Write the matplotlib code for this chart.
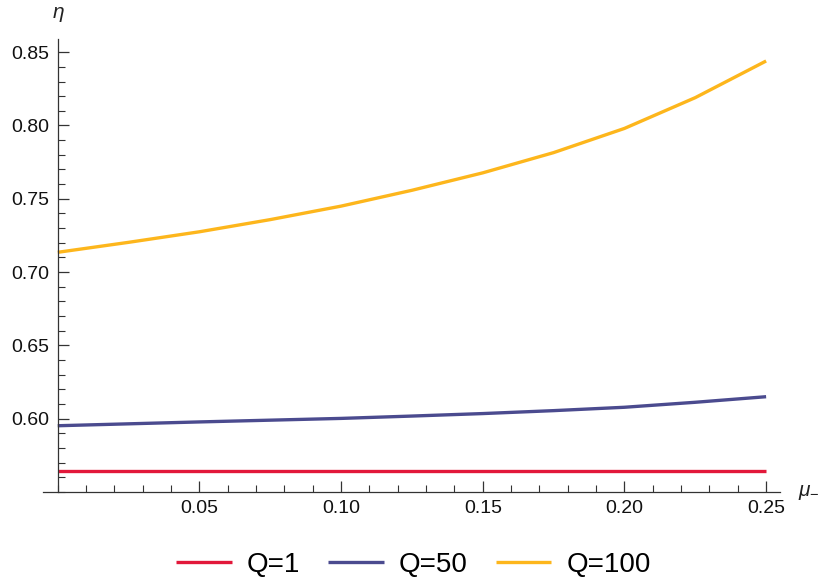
import matplotlib
matplotlib.use("Agg")
import matplotlib.pyplot as plt
from matplotlib.ticker import MultipleLocator, FormatStrFormatter

plt.rcParams['font.family'] = ['Liberation Sans', 'DejaVu Sans']
plt.rcParams['mathtext.fontset'] = 'custom'
plt.rcParams['mathtext.it'] = 'Liberation Sans:italic'
plt.rcParams['mathtext.rm'] = 'Liberation Sans'

# data
mu = [0.0, 0.025, 0.05, 0.075, 0.10, 0.125, 0.15, 0.175, 0.20, 0.225, 0.25]
eta_q1 = [0.5643] * 11
eta_q50 = [0.5952, 0.5965, 0.5978, 0.5990, 0.6002, 0.6018, 0.6035, 0.6055, 0.6078, 0.6112, 0.6150]
eta_q100 = [0.7135, 0.7203, 0.7275, 0.7358, 0.7450, 0.7558, 0.7677, 0.7815, 0.7980, 0.8190, 0.8440]
labels = ["Q=1", "Q=50", "Q=100"]
colors = ["#E2183A", "#4B4B8F", "#FDB61C"]
xticks = [0.05, 0.10, 0.15, 0.20, 0.25]
yticks = [0.60, 0.65, 0.70, 0.75, 0.80, 0.85]

W, H = 819, 577
fig = plt.figure(figsize=(W / 100, H / 100), dpi=100)
ax = fig.add_axes([43 / W, 1 - 492 / H, (780 - 43) / W, (492 - 39) / H])

lines = []
for ys, c, lab in zip([eta_q1, eta_q50, eta_q100], colors, labels):
    l, = ax.plot(mu, ys, color=c, lw=2.4, label=lab, solid_capstyle='butt')
    lines.append(l)

ax.set_xlim(-0.0052, 0.2549)
ax.set_ylim(0.55, 0.859)

axcol = '#333333'
for s in ['top', 'right']:
    ax.spines[s].set_visible(False)
ax.spines['left'].set_position(('data', 0))
ax.spines['left'].set_color(axcol)
ax.spines['bottom'].set_color(axcol)
ax.spines['left'].set_linewidth(0.9)
ax.spines['bottom'].set_linewidth(0.9)

ax.set_xticks(xticks)
ax.set_yticks(yticks)
ax.xaxis.set_minor_locator(MultipleLocator(0.01))
ax.yaxis.set_minor_locator(MultipleLocator(0.01))
ax.xaxis.set_major_formatter(FormatStrFormatter('%.2f'))
ax.yaxis.set_major_formatter(FormatStrFormatter('%.2f'))
ax.tick_params(which='major', direction='in', length=8, width=0.9, color=axcol,
               labelsize=14, labelcolor='#111111', pad=6)
ax.tick_params(which='minor', direction='in', length=5, width=0.8, color=axcol)

fig.text(58 / W, 1 - 15 / H, r'$\eta$', fontsize=15, ha='center', va='center', color='#222222')
fig.text(809 / W, 1 - 493 / H, r'$\mu_{-}$', fontsize=15, ha='center', va='center', color='#222222')

fig.legend(handles=lines, labels=labels, loc='center', bbox_to_anchor=(413.5 / W, 1 - 565 / H),
           ncol=3, frameon=False, fontsize=20, handlelength=2.0, handletextpad=0.55,
           columnspacing=1.0, borderpad=0, borderaxespad=0)

fig.savefig('out.png', dpi=100)
